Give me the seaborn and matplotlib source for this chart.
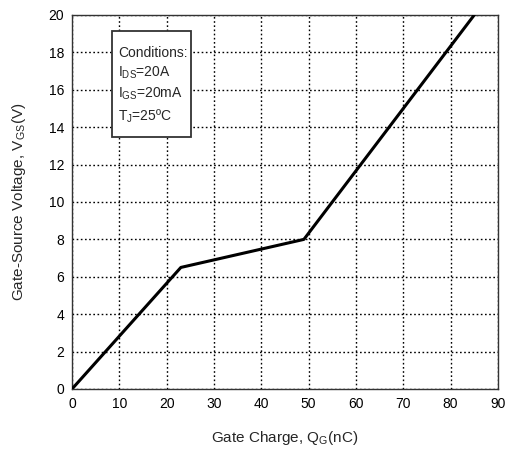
import matplotlib
matplotlib.use("Agg")
import matplotlib.pyplot as plt
from matplotlib.patches import Rectangle
import seaborn as sns
import pandas as pd

# Gate charge curve breakpoints
gate_charge_nc = [0, 23, 49, 85]
gate_voltage_v = [0, 6.5, 8.0, 20.0]
x_ticks = [0, 10, 20, 30, 40, 50, 60, 70, 80, 90]
y_ticks = [0, 2, 4, 6, 8, 10, 12, 14, 16, 18, 20]
condition_lines = [
    "Conditions:",
    "I$_\\mathregular{DS}$=20A",
    "I$_\\mathregular{GS}$=20mA",
    "T$_\\mathregular{J}$=25\u00baC",
]

sns.set_theme(style="white")
plt.rcParams["font.family"] = ["Liberation Sans", "DejaVu Sans"]

df = pd.DataFrame({"qg": gate_charge_nc, "vgs": gate_voltage_v})

fig = plt.figure(figsize=(5.05, 4.54), dpi=100)
ax = fig.add_axes([0.1426, 0.1432, 0.8434, 0.8238])

sns.lineplot(data=df, x="qg", y="vgs", ax=ax, color="black", linewidth=2.2,
             estimator=None, sort=False, zorder=4)

ax.set_xlim(0, 90)
ax.set_ylim(0, 20)
ax.set_xticks(x_ticks)
ax.set_yticks(y_ticks)
ax.grid(True, color="black", linestyle=(0, (1.2, 1.8)), linewidth=1.0)
for s in ax.spines.values():
    s.set_color("#333333")
    s.set_linewidth(1.0)
ax.tick_params(direction="inout", length=7, width=1.0, colors="#333333",
               labelsize=10, labelcolor="black", pad=2)

ax.set_xlabel("Gate Charge, Q$_\\mathregular{G}$(nC)", fontsize=11, labelpad=13)
ax.set_ylabel("Gate-Source Voltage, V$_\\mathregular{GS}$(V)", fontsize=11, labelpad=15)

# Test-conditions box
ax.add_patch(Rectangle((0.094, 0.674), 0.185, 0.283, transform=ax.transAxes,
                       facecolor="white", edgecolor="#333333", linewidth=1.3,
                       zorder=5))
ax.text(0.108, 0.918, "\n".join(condition_lines), transform=ax.transAxes,
        fontsize=10, va="top", ha="left", linespacing=1.4, zorder=6)

fig.savefig("out.png", dpi=100)
